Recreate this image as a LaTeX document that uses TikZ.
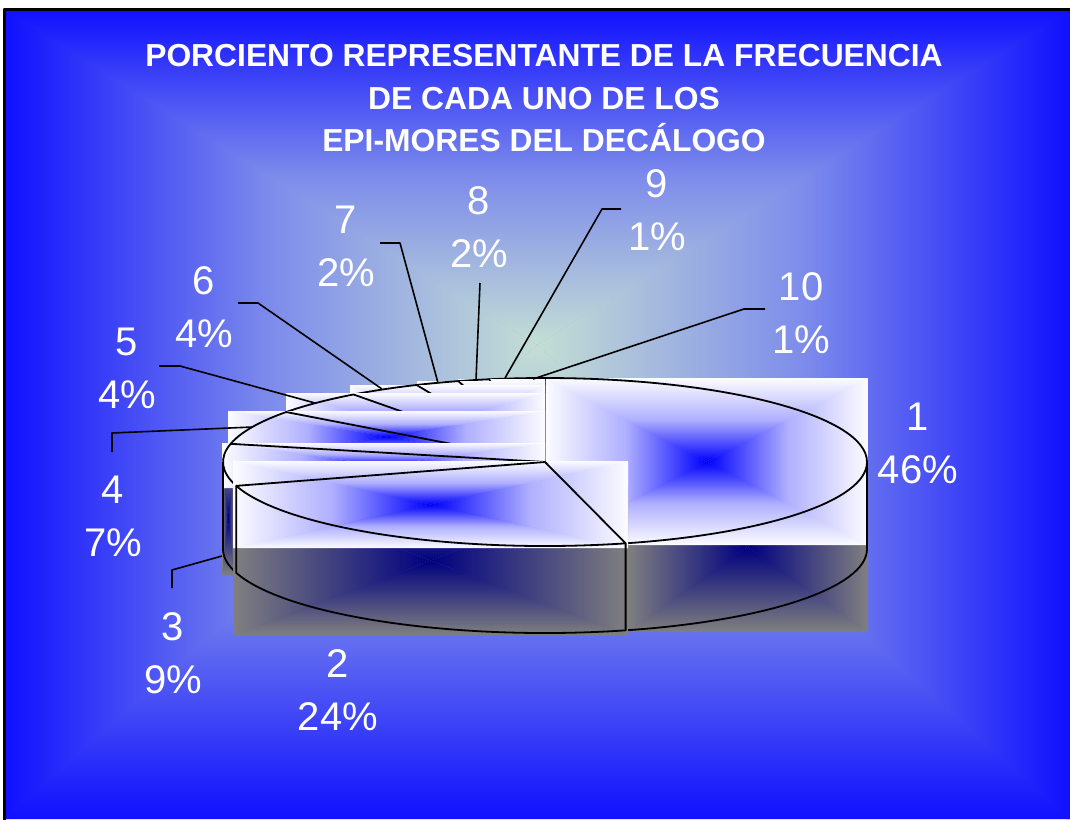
\documentclass[tikz,border=0pt]{standalone}
\usepackage{fontspec}
\setmainfont{Liberation Sans}
\definecolor{bgout}{RGB}{16,16,255}
\definecolor{bgmid}{RGB}{125,140,235}
\definecolor{bgin}{RGB}{196,222,212}
\definecolor{topout}{RGB}{252,252,255}
\definecolor{topmid}{RGB}{175,175,255}
\definecolor{topin}{RGB}{0,0,255}
\definecolor{sideout}{RGB}{128,128,128}
\definecolor{sidemid}{RGB}{64,64,128}
\definecolor{sidein}{RGB}{0,0,128}
% rectangle gradient from a centre point: x1,y1,x2,y2,cx,cy,outer,middle,inner
\newcommand{\rgrad}[9]{%
 \shade[left color=#7,right color=#9,middle color=#8] (#1,#2) -- ([xshift=3pt]#1,#2) -- (#5,#6) -- ([xshift=3pt]#1,#4) -- (#1,#4) -- cycle;
 \shade[left color=#9,right color=#7,middle color=#8] (#3,#2) -- ([xshift=-3pt]#3,#2) -- (#5,#6) -- ([xshift=-3pt]#3,#4) -- (#3,#4) -- cycle;
 \shade[top color=#7,bottom color=#9,middle color=#8] (#1,#2) -- (#3,#2) -- (#5,#6) -- cycle;
 \shade[top color=#9,bottom color=#7,middle color=#8] (#1,#4) -- (#3,#4) -- (#5,#6) -- cycle;}
% top face outline of a slice between two angles
\newcommand{\slicetop}[2]{%
 \draw[outl] (O) -- ([shift={(#1:322pt and 84pt)}]O) arc [start angle=#1, end angle=#2, x radius=322pt, y radius=84pt] -- cycle;}
\begin{document}
\begin{tikzpicture}[x=1pt,y=-1pt,line join=round,
  outl/.style={black,line width=1.8pt},
  lead/.style={black,line width=1.6pt},
  lbl/.style={text=white,align=center,font=\fontsize{40}{53}\selectfont,inner sep=0pt},
  ttl/.style={text=white,font=\fontsize{31.8}{40}\selectfont\bfseries,inner sep=0pt,anchor=base}]
\useasboundingbox (0,0) rectangle (1070,819);
\fill[bgmid] (0,0) rectangle (1070,819);
% background
\rgrad{4}{9}{1070}{819}{537}{345}{bgout}{bgmid}{bgin}
\fill[white] (0,0) rectangle (1070,8);
\fill[white] (0,0) rectangle (3,819);
\draw[black,line width=3pt] (4,840) -- (4,9) -- (1090,9);
% pie geometry
\coordinate (O) at (545,462);
\coordinate (O2) at (545,549);
\coordinate (b2) at ([shift={(-75.5:322pt and 84pt)}]O);
\coordinate (b3) at ([shift={(196.5:322pt and 84pt)}]O);
\coordinate (b2d) at ([shift={(-75.5:322pt and 84pt)}]O2);
\coordinate (b3d) at ([shift={(196.5:322pt and 84pt)}]O2);
\coordinate (lt) at (223,462);
\coordinate (lb) at (223,549);
\coordinate (rt) at (867,462);
% slice 1
\rgrad{627}{462}{868}{632}{747.5}{547}{sideout}{sidemid}{sidein}
\rgrad{545}{378}{868}{545}{706.5}{461.5}{topout}{topmid}{topin}
\draw[outl] (b2) -- (b2d) arc [start angle=-75.5, end angle=0, x radius=322pt, y radius=84pt] -- (rt);
\slicetop{90}{-75.5}
% slices 10 to 4
\rgrad{517}{378}{545}{462}{531}{420}{topout}{topmid}{topin}
\slicetop{95}{90}
\rgrad{489}{379}{545}{462}{517}{420.5}{topout}{topmid}{topin}
\slicetop{100}{95}
\rgrad{458}{379}{545}{462}{501.5}{420.5}{topout}{topmid}{topin}
\slicetop{105.6}{100}
\rgrad{417}{381}{545}{462}{481}{421.5}{topout}{topmid}{topin}
\slicetop{113.5}{105.6}
\rgrad{350}{385}{545}{462}{447.5}{423.5}{topout}{topmid}{topin}
\slicetop{126.5}{113.5}
\rgrad{286}{393}{545}{462}{415.5}{427.5}{topout}{topmid}{topin}
\slicetop{143.5}{126.5}
\rgrad{228}{411}{545}{462}{386.5}{436.5}{topout}{topmid}{topin}
\slicetop{167.5}{143.5}
% slice 3
\rgrad{222}{462}{234}{575}{228}{518.5}{sideout}{sidemid}{sidein}
\rgrad{222}{443}{545}{488}{383.5}{465.5}{topout}{topmid}{topin}
\draw[outl] (lt) -- (lb) arc [start angle=180, end angle=196.5, x radius=322pt, y radius=84pt] -- (b3);
\slicetop{196.5}{167.5}
% slice 2
\rgrad{233}{486}{628}{635}{430.5}{560.5}{sideout}{sidemid}{sidein}
\rgrad{233}{461}{628}{548}{430.5}{504.5}{topout}{topmid}{topin}
\draw[outl] (b3) -- (b3d) arc [start angle=196.5, end angle=284.5, x radius=322pt, y radius=84pt] -- (b2);
\slicetop{-75.5}{-163.5}
% leader lines
\coordinate (k3a) at (172,588); \coordinate (k3b) at (172,570); \coordinate (e3) at (222,556);
\coordinate (k4a) at (112,452); \coordinate (k4b) at (112,433); \coordinate (e4) at (253,427);
\coordinate (k5a) at (159,366); \coordinate (k5b) at (180,366); \coordinate (e5) at (315,403);
\coordinate (k6a) at (238,303); \coordinate (k6b) at (258,303); \coordinate (e6) at (382,389);
\coordinate (k7a) at (380,243); \coordinate (k7b) at (400,243); \coordinate (e7) at (438,383);
\coordinate (k8a) at (480,283); \coordinate (e8) at (476,380);
\coordinate (k9a) at (621,209); \coordinate (k9b) at (602,209); \coordinate (e9) at (505,378);
\coordinate (k10a) at (765,309); \coordinate (k10b) at (744,309); \coordinate (e10) at (533,379);
\draw[lead] (k3a) -- (k3b) -- (e3);
\draw[lead] (k4a) -- (k4b) -- (e4);
\draw[lead] (k5a) -- (k5b) -- (e5);
\draw[lead] (k6a) -- (k6b) -- (e6);
\draw[lead] (k7a) -- (k7b) -- (e7);
\draw[lead] (k8a) -- (e8);
\draw[lead] (k9a) -- (k9b) -- (e9);
\draw[lead] (k10a) -- (k10b) -- (e10);
% labels
\node[lbl] (l1) at (918,443.5) {1\\46\%};
\node[lbl] (l2) at (338,690) {2\\24\%};
\node[lbl] (l3) at (173,653) {3\\9\%};
\node[lbl] (l4) at (113,516) {4\\7\%};
\node[lbl] (l5) at (127,368) {5\\4\%};
\node[lbl] (l6) at (204,307) {6\\4\%};
\node[lbl] (l7) at (346,246) {7\\2\%};
\node[lbl] (l8) at (479,227) {8\\2\%};
\node[lbl] (l9) at (657,210) {9\\1\%};
\node[lbl] (l10) at (801,313) {10\\1\%};
% title
\node[ttl] (t1) at (544,66) {PORCIENTO REPRESENTANTE DE LA FRECUENCIA};
\node[ttl] (t2) at (544,109) {DE CADA UNO DE LOS};
\node[ttl] (t3) at (544,151) {EPI-MORES DEL DECÁLOGO};
\end{tikzpicture}
\end{document}
